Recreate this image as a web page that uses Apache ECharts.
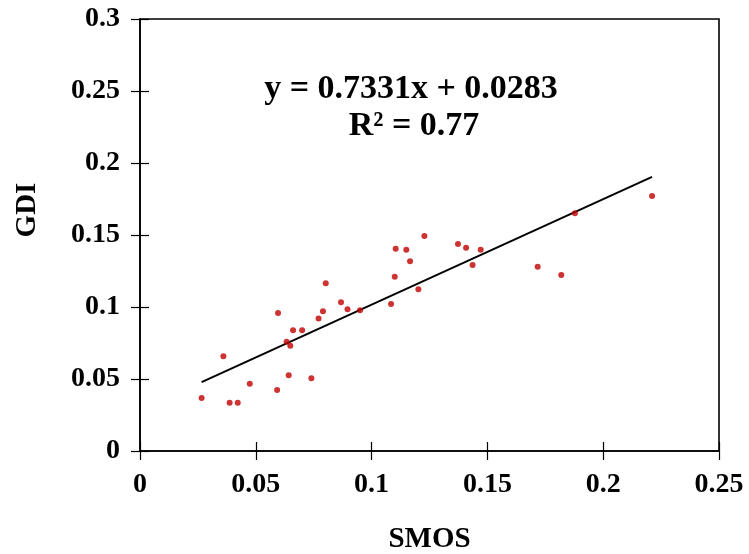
<!DOCTYPE html>
<html>
<head>
<meta charset="utf-8">
<script src="https://cdn.jsdelivr.net/npm/echarts@6/dist/echarts.min.js"></script>
<style>
  html, body { margin: 0; padding: 0; background: #fff; }
  #chart { width: 749px; height: 554px; }
</style>
</head>
<body>
<div id="chart"></div>
<script>
// SMOS vs GDI observations
const smos = [0.0266, 0.0360, 0.0387, 0.0422, 0.0474, 0.0592, 0.0596, 0.0633, 0.0649, 0.0642,
              0.0661, 0.0700, 0.0740, 0.0771, 0.0790, 0.0802, 0.0868, 0.0896, 0.0950, 0.1084,
              0.1100, 0.1104, 0.1150, 0.1166, 0.1202, 0.1228, 0.1373, 0.1408, 0.1436, 0.1471,
              0.1717, 0.1819, 0.1878, 0.2211];
const gdi  = [0.0368, 0.0658, 0.0335, 0.0335, 0.0467, 0.0424, 0.0958, 0.0759, 0.0731, 0.0526,
              0.0838, 0.0838, 0.0505, 0.0920, 0.0971, 0.1165, 0.1033, 0.0984, 0.0978, 0.1021,
              0.1210, 0.1405, 0.1398, 0.1317, 0.1123, 0.1493, 0.1438, 0.1412, 0.1292, 0.1398,
              0.1280, 0.1222, 0.1651, 0.1771];

// Linear fit as printed on the chart
const slope = 0.7331;
const intercept = 0.0283;
const rSquared = 0.77;

const xTicks = [0, 0.05, 0.1, 0.15, 0.2, 0.25];
const yTicks = [0, 0.05, 0.1, 0.15, 0.2, 0.25, 0.3];

const points = smos.map((x, i) => [x, gdi[i]]);
const xMin = Math.min(...smos), xMax = Math.max(...smos);
const fitLine = [[xMin, slope * xMin + intercept], [xMax, slope * xMax + intercept]];

const FONT = 'Liberation Serif';
const grid = { left: 140, top: 19, right: 30, bottom: 103 };

const labelStyle = { fontFamily: FONT, fontWeight: 'bold', fontSize: 28, color: '#000' };

// Excel-style "cross" tick marks: an outer axis with outside ticks plus a bare twin with inside ticks
function mkX(outer) {
  return {
    type: 'value', gridIndex: 0, min: xTicks[0], max: xTicks[xTicks.length - 1], interval: 0.05,
    position: 'bottom',
    splitLine: { show: false },
    axisLine: { show: outer, lineStyle: { color: '#000', width: 1.6 } },
    axisTick: { show: true, inside: !outer, length: 9, lineStyle: { color: '#000', width: 1.2 } },
    axisLabel: Object.assign({ show: outer, margin: 20, formatter: v => String(+v.toFixed(2)) }, labelStyle),
    name: outer ? 'SMOS' : '',
    nameLocation: 'middle', nameGap: 74,
    nameTextStyle: { fontFamily: FONT, fontWeight: 'bold', fontSize: 29, color: '#000' }
  };
}
function mkY(outer) {
  return {
    type: 'value', gridIndex: 0, min: yTicks[0], max: yTicks[yTicks.length - 1], interval: 0.05,
    position: 'left',
    splitLine: { show: false },
    axisLine: { show: outer, lineStyle: { color: '#000', width: 1.6 } },
    axisTick: { show: true, inside: !outer, length: 9, lineStyle: { color: '#000', width: 1.2 } },
    axisLabel: Object.assign({ show: outer, margin: 20, formatter: v => String(+v.toFixed(2)) }, labelStyle)
  };
}

const chart = echarts.init(document.getElementById('chart'), null, { renderer: 'canvas' });
chart.setOption({
  backgroundColor: '#fff',
  animation: false,
  grid: Object.assign({
    show: true, borderColor: '#000', borderWidth: 1.6, backgroundColor: 'transparent',
    containLabel: false, outerBoundsMode: 'none'
  }, grid),
  xAxis: [mkX(true), mkX(false)],
  yAxis: [mkY(true), mkY(false)],
  series: [
    {
      type: 'line', data: fitLine, xAxisIndex: 0, yAxisIndex: 0,
      showSymbol: false, symbol: 'none',
      lineStyle: { color: '#000', width: 2 }, z: 2
    },
    {
      type: 'scatter', data: points, xAxisIndex: 0, yAxisIndex: 0,
      symbol: 'circle', symbolSize: 6,
      itemStyle: { color: '#C00000' }, z: 3
    }
  ],
  graphic: [
    {
      // vertical axis title, set a little above the plot's mid-height
      type: 'text', x: 28, y: 210, rotation: Math.PI / 2,
      style: {
        text: 'GDI', x: 0, y: 0, textAlign: 'center', textVerticalAlign: 'middle',
        font: 'bold 29px "' + FONT + '"', fill: '#000'
      }
    },
    {
      type: 'text',
      style: {
        text: 'y = ' + slope + 'x + ' + intercept,
        x: 411, y: 89, textAlign: 'center', textVerticalAlign: 'middle',
        font: 'bold 34px "' + FONT + '"', fill: '#000'
      }
    },
    {
      type: 'text',
      style: {
        text: 'R² = ' + rSquared,
        x: 414, y: 126, textAlign: 'center', textVerticalAlign: 'middle',
        font: 'bold 34px "' + FONT + '"', fill: '#000'
      }
    }
  ]
});
</script>
</body>
</html>
